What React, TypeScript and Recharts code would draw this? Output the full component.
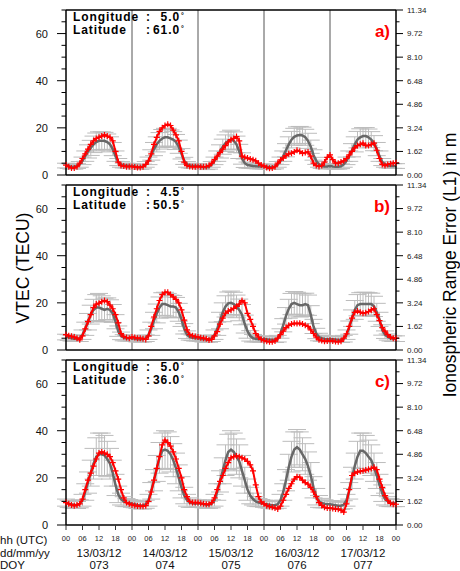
import React from 'react';
import { LineChart, Line, XAxis, YAxis, ErrorBar, ReferenceLine } from 'recharts';

// hourly samples, 13/03/12 00 UTC .. 18/03/12 00 UTC
const hours = Array.from({ length: 121 }, (_, i) => i);

const xTicks = [0, 6, 12, 18, 24, 30, 36, 42, 48, 54, 60, 66, 72, 78, 84, 90, 96, 102, 108, 114, 120];
const dayTicks = [0, 24, 48, 72, 96, 120];
const dayLines = [24, 48, 72, 96];
const yTicks = [0, 5, 10, 15, 20, 25, 30, 35, 40, 45, 50, 55, 60, 65, 70];
const dates = ['13/03/12', '14/03/12', '15/03/12', '16/03/12', '17/03/12'];
const doys = ['073', '074', '075', '076', '077'];

// panel a) lon 5.0 lat 61.0
const grayA = [
  4, 3.8, 3.5, 3.5, 3.8, 4.5, 6, 8, 10, 11.5, 13, 14, 14.5, 14.5, 14.5, 14, 13, 11, 8, 5.5, 4.5, 4, 4, 3.8,
  3.8, 3.6, 3.4, 3.4, 3.6, 4.5, 6, 8.5, 11, 13, 14.5, 15.5, 16, 16, 15.5, 15, 14, 12, 9, 6, 4.5, 4, 3.8, 3.8,
  3.8, 3.6, 3.4, 3.3, 3.5, 4.5, 6, 8, 10, 12, 13.5, 14.5, 15, 14.5, 13, 10, 7, 5, 4.2, 4, 3.8, 3.7, 3.6, 3.6,
  3.6, 3.5, 3.4, 3.4, 3.6, 4.5, 6, 8, 10.5, 13, 15, 16.2, 16.8, 17, 16.8, 16, 14.5, 12, 8.5, 6, 4.5, 3.8, 3.6, 3.6,
  3.8, 3.6, 3.5, 3.5, 3.7, 4.5, 6, 8, 10.5, 13, 15, 16, 16.5, 16.5, 16, 15, 13.5, 11, 8, 5.5, 4.5, 4, 3.8, 3.8,
  3.8,
];
const stdA = [
  1, 1, 1, 1, 1, 1.2, 1.6, 2.2, 2.8, 3.2, 3.5, 3.8, 3.8, 3.8, 3.6, 3.4, 3.2, 2.8, 2.2, 1.5, 1.2, 1, 1, 1,
  1, 1, 1, 1, 1, 1.2, 1.6, 2.2, 2.8, 3.2, 3.5, 3.8, 3.8, 3.8, 3.6, 3.4, 3.2, 2.8, 2.2, 1.5, 1.2, 1, 1, 1,
  1, 1, 1, 1, 1, 1.2, 1.6, 2.2, 2.8, 3.2, 3.5, 3.8, 4, 3.8, 3.5, 3, 2.4, 1.8, 1.3, 1.1, 1, 1, 1, 1,
  1, 1, 1, 1, 1, 1.2, 1.6, 2.2, 2.8, 3.2, 3.5, 3.6, 3.6, 3.6, 3.5, 3.4, 3.2, 2.8, 2.2, 1.5, 1.2, 1, 1, 1,
  1, 1, 1, 1, 1, 1.2, 1.6, 2.2, 2.8, 3.2, 3.5, 3.6, 3.6, 3.6, 3.5, 3.4, 3.2, 2.8, 2.2, 1.5, 1.2, 1, 1, 1,
  1,
];
const redA = [
  4.2, 3.5, 3, 3, 3.5, 5, 7, 9, 11, 13, 14.5, 15.5, 16, 16.5, 17, 16.5, 16, 14.5, 10, 5.5, 4, 3.8, 3.5, 3.6,
  3.6, 3.4, 3.2, 3.2, 3.5, 4.5, 6, 9, 13, 16, 18.5, 20, 21, 21.5, 21, 19, 17, 14.5, 10, 5.5, 4, 3.6, 3.5, 3.5,
  3.6, 3.5, 3.5, 3.6, 4, 5, 6.5, 8, 9.5, 11, 12.5, 14, 15, 15.5, 16.3, 14.5, 8, 7.5, 7.2, 6.8, 6.5, 6, 5, 4.2,
  3.8, 3.2, 2.9, 3, 3.5, 5, 6.4, 7.2, 8.2, 9, 9.2, 9.8, 10.5, 10, 9.2, 9.5, 9.8, 8, 5, 4, 3.6, 4, 5.5, 7.5,
  8.5, 6.5, 5, 5, 5.5, 6, 7, 8.5, 10, 11.5, 12.5, 13, 13.5, 12.5, 12.5, 13, 13.5, 10.5, 7, 4.5, 4, 4.5, 4.8, 5,
  5.2,
];

// panel b) lon 4.5 lat 50.5
const grayB = [
  5.5, 5.3, 5, 4.8, 4.8, 5, 6.5, 9, 12, 15, 17, 18, 18, 17.5, 17, 17.5, 17, 15.5, 12, 8, 6, 5.2, 5, 5,
  5, 4.8, 4.6, 4.5, 4.6, 5, 6.5, 9, 12.5, 15.5, 18, 19.5, 19.5, 19, 18.5, 18.5, 18, 16, 13, 9, 6.5, 5.5, 5.2, 5,
  5, 4.8, 4.6, 4.5, 4.5, 5, 6.5, 9, 12.5, 16, 18.5, 19.8, 20, 19.5, 18.5, 17, 15, 11, 8, 6, 5, 4.8, 4.6, 4.5,
  4.8, 4.6, 4.5, 4.4, 4.4, 4.8, 7, 10.5, 14.5, 17.5, 19.5, 20, 19.5, 19, 19, 19.5, 19, 15, 10, 7, 5.5, 5, 4.8, 4.7,
  4.7, 4.6, 4.5, 4.4, 4.4, 4.8, 6.5, 9.5, 13.5, 17, 19, 19.5, 19.5, 19.5, 19.5, 19.5, 18.5, 16, 13, 8.5, 6.5, 5.5, 5, 4.8,
  4.8,
];
const stdB = [
  1.2, 1.2, 1.2, 1.2, 1.2, 1.4, 2, 2.8, 3.5, 4, 4.5, 5.5, 6, 5.5, 5, 4.6, 4.3, 3.8, 3, 2.2, 1.6, 1.3, 1.2, 1.2,
  1.2, 1.2, 1.2, 1.2, 1.2, 1.4, 2, 2.8, 3.5, 4, 4.5, 4.8, 5, 5, 4.8, 4.6, 4.3, 3.8, 3, 2.2, 1.6, 1.3, 1.2, 1.2,
  1.2, 1.2, 1.2, 1.2, 1.2, 1.4, 2, 2.8, 3.5, 4, 4.5, 4.8, 5, 5, 4.8, 4.6, 4.3, 3.8, 3, 2.2, 1.6, 1.3, 1.2, 1.2,
  1.2, 1.2, 1.2, 1.2, 1.2, 1.4, 2, 2.8, 3.5, 4, 4.5, 4.8, 5, 5, 4.8, 4.6, 4.3, 3.8, 3, 2.2, 1.6, 1.3, 1.2, 1.2,
  1.2, 1.2, 1.2, 1.2, 1.2, 1.4, 2, 2.8, 3.5, 4, 4.5, 4.8, 5, 5, 4.8, 4.6, 4.3, 3.8, 3, 2.2, 1.6, 1.3, 1.2, 1.2,
  1.2,
];
const redB = [
  6.5, 6, 5.8, 5.5, 5, 4.3, 6, 9, 12, 15, 18, 19.5, 19.8, 20.5, 21, 20.5, 19, 17.5, 15, 11.5, 7, 5.7, 5.3, 5,
  5.5, 5.3, 5, 5, 4.8, 4.5, 6, 10, 14, 17.5, 21, 23.5, 24.5, 24.5, 23.5, 22.5, 21.5, 20, 17, 12.7, 8.5, 6.5, 6, 5.7,
  5.5, 5.2, 5, 4.8, 4.2, 4.5, 6, 7.8, 11, 13.5, 15.6, 16.5, 17, 17.7, 18.5, 19.5, 21, 20, 15.5, 13, 10, 7, 5.5, 4.5,
  4, 3.7, 3.5, 3.5, 3.8, 5, 6.5, 8, 9.5, 10.5, 11, 11.3, 11.2, 11.3, 11, 10.5, 10, 8.5, 7, 5.5, 4.3, 4, 3.7, 3.8,
  4, 3.8, 3.6, 3.5, 3.7, 5, 6.8, 10, 13.5, 16, 16.5, 16, 15.6, 15.8, 16.3, 17, 17.5, 15, 12.5, 9.5, 8, 6.5, 5.5, 5,
  5,
];

// panel c) lon 5.0 lat 36.0
const grayC = [
  9.5, 9, 8.8, 8.5, 8.5, 9, 10.5, 14, 18, 22, 26, 29, 30, 30, 29.5, 28, 26, 22, 17, 13, 11, 10, 9.5, 9.3,
  9, 8.8, 8.5, 8.3, 8.3, 8.8, 10.5, 14.5, 19, 24, 28.5, 31.5, 32, 31.5, 30, 27.5, 24, 20, 16, 12.5, 10.5, 9.5, 9.2, 9,
  9.2, 9, 8.8, 8.6, 8.6, 9, 10.5, 14, 18.5, 23, 27.5, 31, 32, 31, 29, 27, 23, 19, 15, 12.5, 11, 10, 9.5, 9.3,
  9, 8.8, 8.6, 8.4, 8.4, 8.8, 10.5, 14, 19, 24.5, 29, 32, 33, 32, 30, 28, 25, 21, 16, 12, 10, 9.3, 9, 8.8,
  8.8, 8.6, 8.4, 8.2, 8.2, 8.6, 10.5, 14.5, 20, 25, 29, 31.5, 31.5, 30.5, 29, 27.5, 24.5, 21, 17, 13.5, 11, 10, 9.5, 9.3,
  9.3,
];
const stdC = [
  1.5, 1.5, 1.5, 1.5, 1.5, 1.7, 2.5, 3.5, 4.5, 5.5, 6.5, 8, 9, 9, 8.5, 7.5, 6.5, 5.5, 4.5, 3.5, 2.5, 2, 1.7, 1.5,
  1.5, 1.5, 1.5, 1.5, 1.5, 1.7, 2.5, 3.5, 4.5, 5.5, 6.5, 7.5, 8, 8, 7.5, 7, 6.5, 5.5, 4.5, 3.5, 2.5, 2, 1.7, 1.5,
  1.5, 1.5, 1.5, 1.5, 1.5, 1.7, 2.5, 3.5, 4.5, 5.5, 6.5, 7.5, 8, 8, 7.5, 7, 6.5, 5.5, 4.5, 3.5, 2.5, 2, 1.7, 1.5,
  1.5, 1.5, 1.5, 1.5, 1.5, 1.7, 2.5, 3.5, 4.5, 5.5, 6.5, 7.5, 7.5, 7.5, 7, 6.5, 6, 5.5, 4.5, 3.5, 2.5, 2, 1.7, 1.5,
  1.5, 1.5, 1.5, 1.5, 1.5, 1.7, 2.5, 3.5, 4.5, 5.5, 6.5, 7.5, 7.5, 7.5, 7, 6.5, 6, 5.5, 4.5, 3.5, 2.5, 2, 1.7, 1.5,
  1.5,
];
const redC = [
  9.5, 9, 8.5, 8.2, 8.5, 9, 11, 15, 19, 22, 25, 28, 30.5, 31, 30.5, 30, 29, 26.5, 23, 19.5, 15, 11.5, 9.5, 9,
  8.5, 8.3, 8.1, 8, 8, 8.2, 10, 14, 19, 24, 29, 34, 36, 35, 33.5, 31, 28, 24, 20, 15, 12, 10, 9.5, 9.5,
  9.5, 9.2, 9, 8.8, 8.8, 9.5, 11.5, 15, 18.5, 21, 24, 26.5, 28.5, 29, 29.3, 29, 28.5, 28, 27, 25.5, 23, 17, 12, 9.8,
  9, 8.2, 7.8, 7.5, 7.2, 6.8, 8, 10.5, 13, 15.5, 17.5, 19.5, 20.5, 20.3, 19, 18, 17.3, 16, 14, 12, 9.5, 8.3, 7.5, 7.2,
  7.2, 7, 6.8, 6.7, 6.3, 5.5, 9, 15, 21, 22, 22.5, 22.8, 23, 23.3, 23.6, 24, 24.5, 23.5, 19.5, 16, 12.5, 10.5, 9.2, 8.8,
  8.8,
];

const panels = [
  { label: 'a)', lon: '5.0', lat: '61.0', gray: grayA, std: stdA, red: redA },
  { label: 'b)', lon: '4.5', lat: '50.5', gray: grayB, std: stdB, red: redB },
  { label: 'c)', lon: '5.0', lat: '36.0', gray: grayC, std: stdC, red: redC },
];

const FONT = '"Liberation Sans", Arial, Helvetica, sans-serif';
const PANEL_TOPS = [10, 185, 360];
const PLOT_H = 165;
const LEFT = 66;
const RIGHT = 396;
const M_PER_TECU = 0.162;

const LeftTick = (props: any) => {
  const { y, payload } = props;
  const v = payload.value;
  const major = v % 20 === 0;
  return (
    <g>
      <line x1={LEFT - (major ? 9 : 4.5)} x2={LEFT} y1={y} y2={y} stroke="#000" strokeWidth={1} />
      {major && (
        <text x={LEFT - 18} y={y} dy="0.36em" textAnchor="end" fontSize={11} fill="#111" fontFamily={FONT}>
          {v}
        </text>
      )}
    </g>
  );
};

const RightTick = (props: any) => {
  const { y, payload } = props;
  const v = payload.value;
  const major = v % 10 === 0;
  return (
    <g>
      <line x1={RIGHT} x2={RIGHT + (major ? 7 : 3.5)} y1={y} y2={y} stroke="#000" strokeWidth={1} />
      {major && (
        <text x={RIGHT + 11} y={y} dy="0.36em" textAnchor="start" fontSize={8} fill="#222" fontFamily={FONT}>
          {(v * M_PER_TECU).toFixed(2)}
        </text>
      )}
    </g>
  );
};

// bottom axis labels of the last panel: hour, and date / DOY under each noon
const HourTick = (props: any) => {
  const { x, payload } = props;
  const v = payload.value;
  const hh = String(v % 24).padStart(2, '0');
  const day = Math.floor(v / 24);
  const noon = v % 24 === 12 && day < dates.length;
  return (
    <g fontFamily={FONT}>
      <text x={x} y={191} textAnchor="middle" fontSize={7.5} fill="#222">{hh}</text>
      {noon && (
        <text x={x} y={206.5} textAnchor="middle" fontSize={11.5} fill="#111">{dates[day]}</text>
      )}
      {noon && (
        <text x={x} y={218.5} textAnchor="middle" fontSize={11.5} fill="#111">{doys[day]}</text>
      )}
    </g>
  );
};

const PlusDot = (props: any) => {
  const { cx, cy, index } = props;
  if (cx == null || cy == null) return <g key={index} />;
  return (
    <path
      key={index}
      d={`M${cx - 3},${cy}H${cx + 3}M${cx},${cy - 3}V${cy + 3}`}
      stroke="#ff0000"
      strokeWidth={1.2}
      fill="none"
    />
  );
};

function Panel({ p, index }: { p: any; index: number }) {
  const isLast = index === 2;
  const bottom = isLast ? 46 : 5;
  const data = hours.map((t, i) => ({ t, gray: p.gray[i], std: p.std[i], red: p.red[i] }));
  return (
    <div style={{ position: 'absolute', left: 0, top: PANEL_TOPS[index] - 10 }}>
      <LineChart
        width={460}
        height={10 + PLOT_H + bottom}
        data={data}
        margin={{ top: 9, right: 10, bottom: bottom - 1, left: 10 }}
      >
        <XAxis
          xAxisId="top"
          orientation="top"
          dataKey="t"
          type="number"
          domain={[0, 120]}
          ticks={index === 0 ? dayTicks : xTicks}
          interval={0}
          tickSize={index === 0 ? 10 : 5}
          height={1}
          tick={false}
          axisLine={{ stroke: '#000', strokeWidth: 1.5 }}
          tickLine={{ stroke: index === 0 ? '#555' : '#333' }}
        />
        <XAxis
          xAxisId="bot"
          dataKey="t"
          type="number"
          domain={[0, 120]}
          ticks={xTicks}
          interval={0}
          tickSize={5}
          height={1}
          tick={isLast ? <HourTick /> : false}
          axisLine={{ stroke: '#000', strokeWidth: 1.5 }}
          tickLine={{ stroke: '#333' }}
        />
        <YAxis
          yAxisId="l"
          domain={[0, 70]}
          ticks={yTicks}
          interval={0}
          width={56}
          tickLine={false}
          tickSize={0}
          tickMargin={0}
          tick={<LeftTick />}
          axisLine={{ stroke: '#000', strokeWidth: 1.5 }}
        />
        <YAxis
          yAxisId="r"
          orientation="right"
          domain={[0, 70]}
          ticks={yTicks}
          interval={0}
          width={54}
          tickLine={false}
          tickSize={0}
          tickMargin={0}
          tick={<RightTick />}
          axisLine={{ stroke: '#000', strokeWidth: 1.5 }}
        />
        {dayLines.map((d) => (
          <ReferenceLine key={d} x={d} xAxisId="bot" yAxisId="l" stroke="#555" strokeWidth={1} />
        ))}
        {/* spread of the reference values, drawn on the twin axes (same scales) */}
        <Line
          xAxisId="top"
          yAxisId="r"
          dataKey="gray"
          stroke="#9a9a9a"
          strokeWidth={1}
          dot={false}
          isAnimationActive={false}
        >
          <ErrorBar dataKey="std" width={9} stroke="#bcbcbc" strokeWidth={1} direction="y" isAnimationActive={false} />
        </Line>
        <Line
          xAxisId="bot"
          yAxisId="l"
          dataKey="gray"
          stroke="#686868"
          strokeWidth={2.5}
          dot={false}
          isAnimationActive={false}
        />
        <Line
          xAxisId="bot"
          yAxisId="l"
          dataKey="red"
          stroke="#ff0000"
          strokeWidth={2}
          dot={PlusDot}
          isAnimationActive={false}
        />
      </LineChart>
    </div>
  );
}

export default function App() {
  return (
    <div
      style={{
        position: 'absolute',
        left: 0,
        top: 0,
        width: 460,
        height: 571,
        overflow: 'hidden',
        background: '#fff',
        fontFamily: FONT,
      }}
    >
      {panels.map((p, i) => (
        <Panel key={p.label} p={p} index={i} />
      ))}
      <svg
        width={460}
        height={571}
        style={{ position: 'absolute', left: 0, top: 0, pointerEvents: 'none' }}
        fontFamily={FONT}
      >
        {panels.map((p, i) => {
          const T = PANEL_TOPS[i];
          return (
            <g key={p.label} fontWeight="bold" fill="#000">
              <text x={73} y={T + 10.5} fontSize={12} letterSpacing={0.9}>Longitude</text>
              <text x={146} y={T + 10.5} fontSize={12}>:</text>
              <text x={180} y={T + 10.5} fontSize={12} letterSpacing={0.9} textAnchor="end">{p.lon}</text>
              <text x={73} y={T + 24} fontSize={12} letterSpacing={0.9}>Latitude</text>
              <text x={146} y={T + 24} fontSize={12}>:</text>
              <text x={180} y={T + 24} fontSize={12} letterSpacing={0.9} textAnchor="end">{p.lat}</text>
              <text x={181} y={T + 8} fontSize={7}>°</text>
              <text x={181} y={T + 21} fontSize={7}>°</text>
              <text x={390} y={T + 27} fontSize={17} fill="#ff0000" textAnchor="end">{p.label}</text>
            </g>
          );
        })}
        <text x={29} y={268} fontSize={17.5} textAnchor="middle" transform="rotate(-90 29 268)" fill="#000">
          VTEC (TECU)
        </text>
        <text x={456} y={265} fontSize={17.5} textAnchor="middle" transform="rotate(-90 456 265)" fill="#000">
          Ionospheric Range Error (L1) in m
        </text>
        <text x={0} y={544} fontSize={11.5} fill="#111">hh (UTC)</text>
        <text x={0} y={556.5} fontSize={11.5} fill="#111">dd/mm/yy</text>
        <text x={0} y={568.5} fontSize={11.5} fill="#111">DOY</text>
      </svg>
    </div>
  );
}
